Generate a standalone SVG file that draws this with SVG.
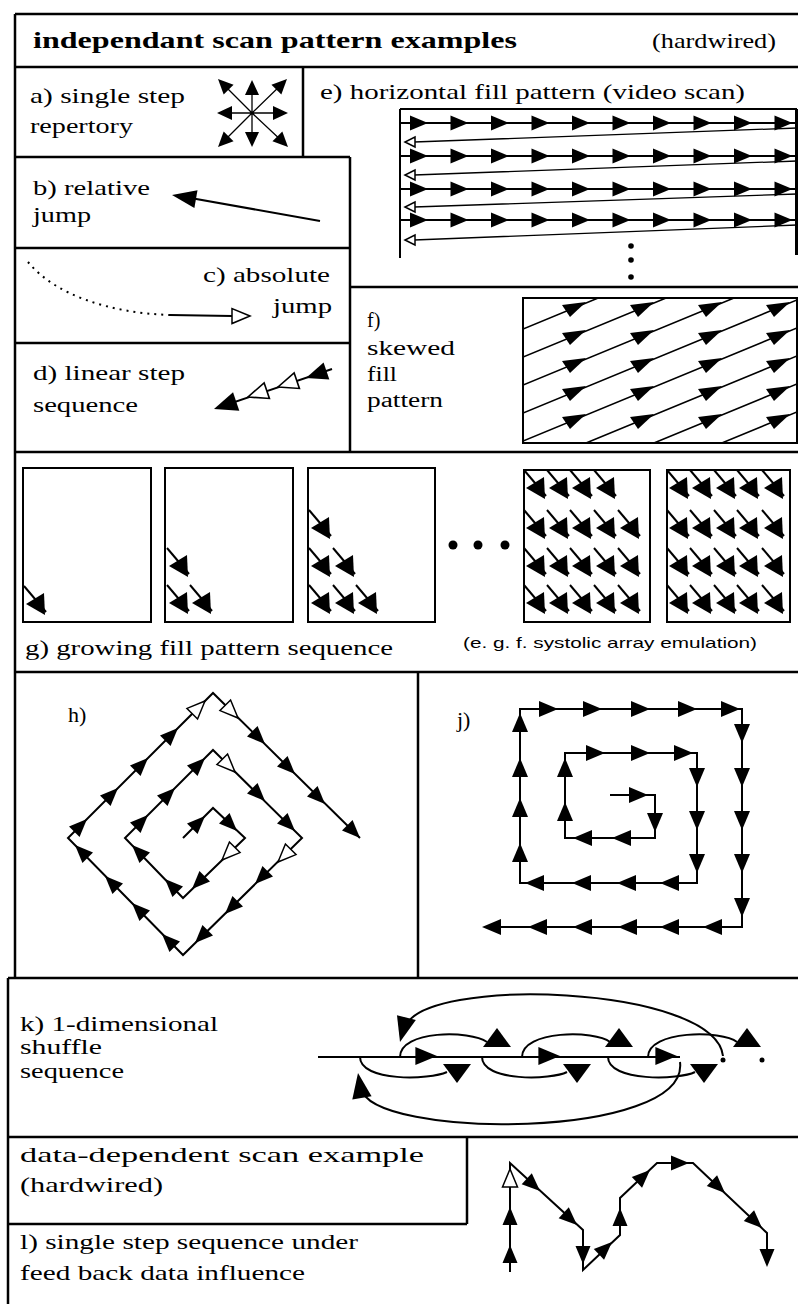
<svg xmlns="http://www.w3.org/2000/svg" width="798" height="1304" viewBox="0 0 798 1304">
<style>
.t{font-family:"Liberation Serif","Times New Roman",serif;font-size:22px;fill:#000}
.t2{font-family:"Liberation Serif","Times New Roman",serif;font-size:20px;fill:#000}
.hb{font-family:"Liberation Serif","Times New Roman",serif;font-size:23px;font-weight:bold;fill:#000}
.s{font-family:"Liberation Sans",Arial,sans-serif;font-size:15px;fill:#000}
.fr{stroke:#000;stroke-width:2.5;fill:none}
.ln{stroke:#000;stroke-width:2;fill:none}
.th{stroke:#000;stroke-width:1.3;fill:none}
.dt{stroke:#000;stroke-width:2;fill:none;stroke-dasharray:2 5}
.f{fill:#000}
.o{fill:#fff;stroke:#000;stroke-width:1.5}
</style>
<defs>
<path id="A" d="M0,0 L-18,-7.5 L-18,7.5 Z"/>
<path id="As" d="M0,0 L-15,-7 L-15,7 Z"/>
<path id="Aj" d="M0,0 L-19,-8 L-19,8 Z"/>
<path id="T" d="M0,0 L-19,-14 L-19,14 Z"/>
<path id="Ar" d="M0,0 L-10,-5 L-10,5 Z"/>
<path id="Fh" d="M-12,-3 L12,-6 L-4,9 Z"/>
<g id="G"><path d="M-13,-17 L9,9" stroke="#000" stroke-width="2" fill="none"/><path d="M-11,1 L7,-10 L8,12 Z" fill="#000"/></g>
<g id="erow" fill="#000">
<path d="M400,0 H797" stroke="#000" stroke-width="2"/>
<use href="#A" x="428"/><use href="#A" x="468.5"/><use href="#A" x="509"/><use href="#A" x="549.5"/><use href="#A" x="590"/>
<use href="#A" x="630.5"/><use href="#A" x="671"/><use href="#A" x="711.5"/><use href="#A" x="752"/><use href="#A" x="792.5"/>
</g>
<clipPath id="fc"><rect x="523" y="298" width="274" height="145"/></clipPath>
</defs>
<rect width="798" height="1304" fill="#fff"/>

<g id="frame" class="fr">
<path d="M15,14 H798 M15,14 V978 M8,978 V1304 M15,67 H798 M303,67 V157 M15,157 H350 M350,157 V452 M15,248 H350 M15,343 H350 M350,287 H798 M15,452 H798 M15,672 H798 M418,672 V978 M8,978 H798 M8,1137 H798 M467,1137 V1224 M8,1224 H467"/>
</g>

<g id="header">
<text class="hb" x="33" y="48" textLength="484" lengthAdjust="spacingAndGlyphs">independant scan pattern examples</text>
<text class="t" x="652" y="48" textLength="124" lengthAdjust="spacingAndGlyphs">(hardwired)</text>
</g>

<g id="panel-a">
<text class="t" x="30" y="103" textLength="155" lengthAdjust="spacingAndGlyphs">a) single step</text>
<text class="t" x="30" y="133" textLength="103" lengthAdjust="spacingAndGlyphs">repertory</text>
<path class="th" d="M252,113 L252,84 M252,113 L252,143 M252,113 L221,113 M252,113 L284,113 M252,113 L222,83 M252,113 L283,83 M252,113 L222,143 M252,113 L284,143"/>
<g class="f">
<use href="#As" transform="translate(252,80) rotate(-90)"/>
<use href="#As" transform="translate(252,147) rotate(90)"/>
<use href="#As" transform="translate(217,113) rotate(180)"/>
<use href="#As" transform="translate(288,113) rotate(0)"/>
<use href="#As" transform="translate(218,79) rotate(-135)"/>
<use href="#As" transform="translate(287,79) rotate(-45)"/>
<use href="#As" transform="translate(218,147) rotate(135)"/>
<use href="#As" transform="translate(288,147) rotate(45)"/>
</g>
</g>

<g id="panel-b">
<text class="t" x="33" y="195" textLength="117" lengthAdjust="spacingAndGlyphs">b) relative</text>
<text class="t" x="33" y="222" textLength="58" lengthAdjust="spacingAndGlyphs">jump</text>
<path class="ln" d="M320,221 L185,197"/>
<use href="#A" class="f" transform="translate(172,195) rotate(190) scale(1.35,1.2)"/>
</g>

<g id="panel-c">
<text class="t" x="203" y="282" textLength="127" lengthAdjust="spacingAndGlyphs">c) absolute</text>
<text class="t" x="273" y="313" textLength="59" lengthAdjust="spacingAndGlyphs">jump</text>
<path class="dt" d="M28,262 C55,295 110,313 170,315"/>
<path class="ln" d="M170,315 L232,316"/>
<use href="#A" class="o" transform="translate(250,316)"/>
</g>

<g id="panel-d">
<text class="t" x="33" y="380" textLength="152" lengthAdjust="spacingAndGlyphs">d) linear step</text>
<text class="t" x="33" y="412" textLength="105" lengthAdjust="spacingAndGlyphs">sequence</text>
<path class="ln" d="M332,369 L220,407"/>
<use href="#A" class="f" transform="translate(306,378) rotate(161.3) scale(1.2)"/>
<use href="#A" class="o" transform="translate(278,387) rotate(161.3) scale(1.1)"/>
<use href="#A" class="o" transform="translate(248,397) rotate(161.3) scale(1.1)"/>
<use href="#A" class="f" transform="translate(214,409) rotate(161.3) scale(1.3)"/>
</g>

<g id="panel-e">
<text class="t" x="320" y="99" textLength="425" lengthAdjust="spacingAndGlyphs">e) horizontal fill pattern (video scan)</text>
<path class="ln" d="M400,109 V258 M400,109 H797"/>
<path d="M797,109 V255" stroke="#000" stroke-width="4"/>
<use href="#erow" y="123"/>
<use href="#erow" y="156"/>
<use href="#erow" y="189"/>
<use href="#erow" y="220"/>
<path class="th" d="M797,128 L414,142 M797,161 L414,175 M797,194 L414,207 M797,225 L414,240"/>
<g class="o">
<use href="#Ar" transform="translate(405,142) rotate(180)"/>
<use href="#Ar" transform="translate(405,175) rotate(180)"/>
<use href="#Ar" transform="translate(405,207) rotate(180)"/>
<use href="#Ar" transform="translate(405,240) rotate(180)"/>
</g>
<g class="f">
<circle cx="631" cy="246" r="2.8"/>
<circle cx="631" cy="260" r="2.8"/>
<circle cx="631" cy="277" r="2.8"/>
</g>
</g>

<g id="panel-f">
<text class="t2" x="367" y="327">f)</text>
<text class="t2" x="367" y="355" textLength="88" lengthAdjust="spacingAndGlyphs">skewed</text>
<text class="t2" x="367" y="381" textLength="30" lengthAdjust="spacingAndGlyphs">fill</text>
<text class="t2" x="367" y="407" textLength="76" lengthAdjust="spacingAndGlyphs">pattern</text>
<rect class="ln" x="523" y="298" width="274" height="145"/>
<g clip-path="url(#fc)" stroke="#000" stroke-width="1.6">
<path d="M523,329 L797,216 M523,357 L797,244 M523,385 L797,272 M523,413 L797,300 M523,441 L797,328 M523,469 L797,356 M523,497 L797,384 M523,525 L797,412"/>
</g>
<g class="f">
<use href="#Fh" x="574" y="308"/><use href="#Fh" x="642" y="308"/><use href="#Fh" x="710" y="308"/><use href="#Fh" x="778" y="308"/>
<use href="#Fh" x="574" y="336"/><use href="#Fh" x="642" y="336"/><use href="#Fh" x="710" y="336"/><use href="#Fh" x="778" y="336"/>
<use href="#Fh" x="574" y="364"/><use href="#Fh" x="642" y="364"/><use href="#Fh" x="710" y="364"/><use href="#Fh" x="778" y="364"/>
<use href="#Fh" x="574" y="392"/><use href="#Fh" x="642" y="392"/><use href="#Fh" x="710" y="392"/><use href="#Fh" x="778" y="392"/>
<use href="#Fh" x="574" y="420"/><use href="#Fh" x="642" y="420"/><use href="#Fh" x="710" y="420"/><use href="#Fh" x="778" y="420"/>
</g>
</g>

<g id="panel-g">
<g class="ln">
<rect x="23" y="468" width="128" height="154"/>
<rect x="165" y="468" width="128" height="154"/>
<rect x="308" y="468" width="127" height="154"/>
<rect x="524" y="470" width="126" height="152"/>
<rect x="667" y="470" width="123" height="152"/>
</g>
<use href="#G" x="37" y="603"/>
<use href="#G" x="180" y="565"/><use href="#G" x="180" y="602"/><use href="#G" x="203" y="602"/>
<use href="#G" x="322" y="527"/><use href="#G" x="322" y="565"/><use href="#G" x="346" y="565"/><use href="#G" x="322" y="602"/><use href="#G" x="346" y="602"/><use href="#G" x="369" y="602"/>
<use href="#G" x="537" y="487"/><use href="#G" x="560" y="487"/><use href="#G" x="583" y="487"/><use href="#G" x="607" y="487"/>
<use href="#G" x="537" y="527"/><use href="#G" x="560" y="527"/><use href="#G" x="583" y="527"/><use href="#G" x="607" y="527"/><use href="#G" x="631" y="527"/>
<use href="#G" x="537" y="565"/><use href="#G" x="560" y="565"/><use href="#G" x="583" y="565"/><use href="#G" x="607" y="565"/><use href="#G" x="631" y="565"/>
<use href="#G" x="537" y="602"/><use href="#G" x="560" y="602"/><use href="#G" x="583" y="602"/><use href="#G" x="607" y="602"/><use href="#G" x="631" y="602"/>
<use href="#G" x="680" y="487"/><use href="#G" x="703" y="487"/><use href="#G" x="727" y="487"/><use href="#G" x="750" y="487"/><use href="#G" x="775" y="487"/>
<use href="#G" x="680" y="527"/><use href="#G" x="703" y="527"/><use href="#G" x="727" y="527"/><use href="#G" x="750" y="527"/><use href="#G" x="775" y="527"/>
<use href="#G" x="680" y="565"/><use href="#G" x="703" y="565"/><use href="#G" x="727" y="565"/><use href="#G" x="750" y="565"/><use href="#G" x="775" y="565"/>
<use href="#G" x="680" y="602"/><use href="#G" x="703" y="602"/><use href="#G" x="727" y="602"/><use href="#G" x="750" y="602"/><use href="#G" x="775" y="602"/>
<g class="f">
<circle cx="453" cy="545" r="4.5"/><circle cx="478" cy="545" r="4.5"/><circle cx="505" cy="545" r="4.5"/>
</g>
<text class="t" x="25" y="655" textLength="368" lengthAdjust="spacingAndGlyphs">g) growing fill pattern sequence</text>
<text class="s" x="463" y="648" textLength="294" lengthAdjust="spacingAndGlyphs">(e. g. f. systolic array emulation)</text>
</g>

<g id="panel-h">
<text class="t" x="68" y="722">h)</text>
<path class="ln" d="M183,838 L213,808 L245,838 L183,898 L125,838 L213,750 L302,838 L183,955 L68,838 L213,693 L360,838"/>
<g class="f">
<use href="#A" transform="translate(205,816) rotate(-45)"/>
<use href="#A" transform="translate(237,831) rotate(45)"/>
<use href="#A" class="o" transform="translate(222,860) rotate(135)"/>
<use href="#A" transform="translate(192,889) rotate(135)"/>
<use href="#A" transform="translate(165,879) rotate(-135)"/>
<use href="#A" transform="translate(132,845) rotate(-135)"/>
<use href="#A" transform="translate(148,815) rotate(-45)"/>
<use href="#A" transform="translate(175,788) rotate(-45)"/>
<use href="#A" transform="translate(205,758) rotate(-45)"/>
<use href="#A" class="o" transform="translate(235,772) rotate(45)"/>
<use href="#A" transform="translate(265,801) rotate(45)"/>
<use href="#A" transform="translate(295,831) rotate(45)"/>
<use href="#A" class="o" transform="translate(278,862) rotate(135)"/>
<use href="#A" transform="translate(255,884) rotate(135)"/>
<use href="#A" transform="translate(225,914) rotate(135)"/>
<use href="#A" transform="translate(195,943) rotate(135)"/>
<use href="#A" transform="translate(162,934) rotate(-135)"/>
<use href="#A" transform="translate(132,903) rotate(-135)"/>
<use href="#A" transform="translate(105,876) rotate(-135)"/>
<use href="#A" transform="translate(75,845) rotate(-135)"/>
<use href="#A" transform="translate(87,819) rotate(-45)"/>
<use href="#A" transform="translate(118,788) rotate(-45)"/>
<use href="#A" transform="translate(148,758) rotate(-45)"/>
<use href="#A" transform="translate(178,728) rotate(-45)"/>
<use href="#A" class="o" transform="translate(205,701) rotate(-45)"/>
<use href="#A" class="o" transform="translate(238,718) rotate(45)"/>
<use href="#A" transform="translate(265,744) rotate(45)"/>
<use href="#A" transform="translate(295,774) rotate(45)"/>
<use href="#A" transform="translate(325,804) rotate(45)"/>
<use href="#A" transform="translate(360,838) rotate(45)"/>
</g>
</g>

<g id="panel-j">
<text class="t" x="457" y="727">j)</text>
<path class="ln" d="M610,795 H655 V838 H565 V753 H697 V883 H520 V709 H742 V927 H490"/>
<g class="f">
<use href="#Aj" transform="translate(558,709)"/><use href="#Aj" transform="translate(602,709)"/><use href="#Aj" transform="translate(650,709)"/><use href="#Aj" transform="translate(697,709)"/><use href="#Aj" transform="translate(740,709)"/>
<use href="#Aj" transform="translate(742,743) rotate(90)"/><use href="#Aj" transform="translate(742,787) rotate(90)"/><use href="#Aj" transform="translate(742,830) rotate(90)"/><use href="#Aj" transform="translate(742,873) rotate(90)"/><use href="#Aj" transform="translate(742,917) rotate(90)"/>
<use href="#Aj" transform="translate(482,927) rotate(180)"/><use href="#Aj" transform="translate(528,927) rotate(180)"/><use href="#Aj" transform="translate(573,927) rotate(180)"/><use href="#Aj" transform="translate(618,927) rotate(180)"/><use href="#Aj" transform="translate(660,927) rotate(180)"/><use href="#Aj" transform="translate(703,927) rotate(180)"/>
<use href="#Aj" transform="translate(520,713) rotate(-90)"/><use href="#Aj" transform="translate(520,758) rotate(-90)"/><use href="#Aj" transform="translate(520,798) rotate(-90)"/><use href="#Aj" transform="translate(520,843) rotate(-90)"/>
<use href="#Aj" transform="translate(525,883) rotate(180)"/><use href="#Aj" transform="translate(572,883) rotate(180)"/><use href="#Aj" transform="translate(617,883) rotate(180)"/><use href="#Aj" transform="translate(660,883) rotate(180)"/>
<use href="#Aj" transform="translate(697,787) rotate(90)"/><use href="#Aj" transform="translate(697,830) rotate(90)"/><use href="#Aj" transform="translate(697,873) rotate(90)"/>
<use href="#Aj" transform="translate(605,753)"/><use href="#Aj" transform="translate(650,753)"/><use href="#Aj" transform="translate(693,753)"/>
<use href="#Aj" transform="translate(565,758) rotate(-90)"/><use href="#Aj" transform="translate(565,802) rotate(-90)"/>
<use href="#Aj" transform="translate(573,838) rotate(180)"/><use href="#Aj" transform="translate(612,838) rotate(180)"/>
<use href="#Aj" transform="translate(655,832) rotate(90)"/>
<use href="#Aj" transform="translate(648,795)"/>
</g>
</g>

<g id="panel-k">
<text class="t" x="20" y="1031" textLength="198" lengthAdjust="spacingAndGlyphs">k) 1-dimensional</text>
<text class="t" x="20" y="1054" textLength="82" lengthAdjust="spacingAndGlyphs">shuffle</text>
<text class="t" x="20" y="1078" textLength="104" lengthAdjust="spacingAndGlyphs">sequence</text>
<g class="ln">
<path d="M318,1057 H680"/>
<path d="M400,1057 C400,1030 470,1030 487,1042"/>
<path d="M522,1057 C522,1030 595,1030 610,1042"/>
<path d="M648,1057 C648,1030 722,1030 737,1042"/>
<path d="M360,1057 C360,1082 430,1080 447,1072"/>
<path d="M482,1057 C482,1082 552,1080 567,1072"/>
<path d="M608,1057 C608,1082 680,1080 695,1072"/>
<path d="M723,1056 C715,985 420,975 405,1028"/>
<path d="M680,1062 C690,1140 370,1140 361,1088"/>
</g>
<g class="f">
<use href="#A" transform="translate(437,1056) scale(1.2)"/>
<use href="#A" transform="translate(560,1056) scale(1.2)"/>
<use href="#A" transform="translate(677,1056) scale(1.2)"/>
<use href="#T" transform="translate(497,1028) rotate(-90)"/>
<use href="#T" transform="translate(619,1028) rotate(-90)"/>
<use href="#T" transform="translate(747,1028) rotate(-90)"/>
<use href="#T" transform="translate(457,1083) rotate(90)"/>
<use href="#T" transform="translate(577,1083) rotate(90)"/>
<use href="#T" transform="translate(704,1083) rotate(90)"/>
<use href="#A" transform="translate(400,1042) rotate(104.7) scale(1.4,1.3)"/>
<use href="#A" transform="translate(358,1073) rotate(-99) scale(1.4,1.3)"/>
<circle cx="723" cy="1060" r="2.5"/>
<circle cx="762" cy="1060" r="2.5"/>
</g>
</g>

<g id="panel-data">
<text class="t" x="20" y="1162" textLength="404" lengthAdjust="spacingAndGlyphs">data-dependent scan example</text>
<text class="t" x="20" y="1192" textLength="143" lengthAdjust="spacingAndGlyphs">(hardwired)</text>
</g>

<g id="panel-l">
<text class="t" x="20" y="1249" textLength="338" lengthAdjust="spacingAndGlyphs">l) single step sequence under</text>
<text class="t" x="20" y="1280" textLength="285" lengthAdjust="spacingAndGlyphs">feed back data influence</text>
<path class="ln" d="M510,1272 V1163 L583,1230 V1270 L620,1235 V1198 L657,1163 H693 L767,1233 V1262"/>
<g class="f">
<use href="#A" transform="translate(510,1245) rotate(-90)"/>
<use href="#A" transform="translate(510,1207) rotate(-90)"/>
<use href="#A" class="o" transform="translate(510,1169) rotate(-90)"/>
<use href="#A" transform="translate(540,1191) rotate(42.5)"/>
<use href="#A" transform="translate(577,1225) rotate(42.5)"/>
<use href="#A" transform="translate(583,1264) rotate(90)"/>
<use href="#A" transform="translate(612,1242) rotate(-43.4)"/>
<use href="#A" transform="translate(620,1208) rotate(-90)"/>
<use href="#A" transform="translate(650,1170) rotate(-43.4)"/>
<use href="#A" transform="translate(689,1163)"/>
<use href="#A" transform="translate(725,1193) rotate(43.4)"/>
<use href="#A" transform="translate(762,1228) rotate(43.4)"/>
<use href="#A" transform="translate(767,1267) rotate(90)"/>
</g>
</g>
</svg>
